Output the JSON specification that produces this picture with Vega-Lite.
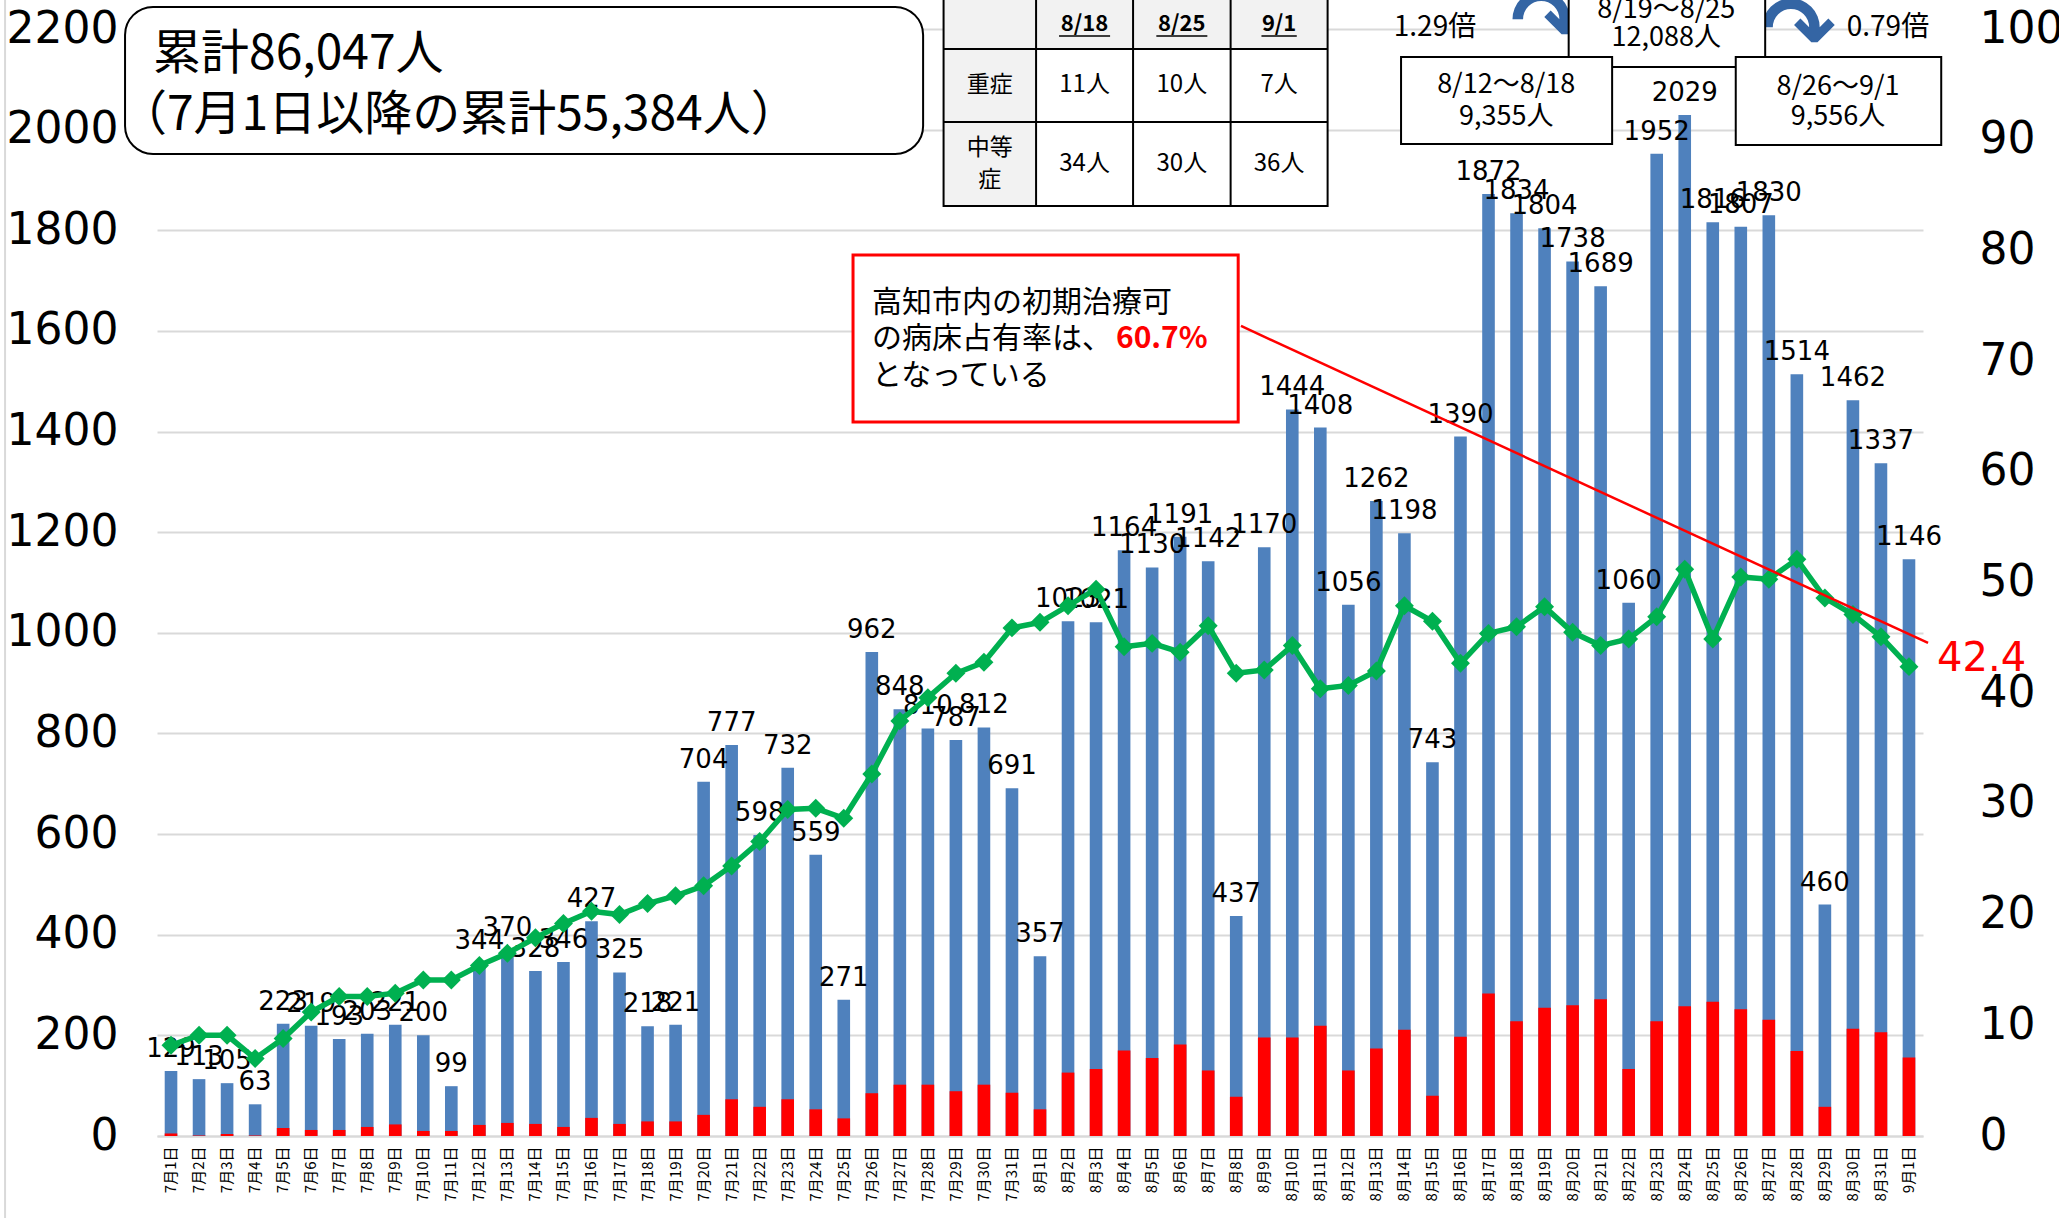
{
"$schema": "https://vega.github.io/schema/vega-lite/v6.json",
"width": 1766, "height": 1107,
"autosize": {"type": "none"},
"padding": {"left": 157, "top": 29, "right": 136, "bottom": 82},
"background": "white",
"config": {"view": {"stroke": null}, "font": "Noto Sans CJK JP"},
"data": {"values": [
{"date":"7月1日","total":129,"red":5,"rate":8.2},
{"date":"7月2日","total":113,"red":1,"rate":9.1},
{"date":"7月3日","total":105,"red":4,"rate":9.1},
{"date":"7月4日","total":63,"red":1,"rate":7.0},
{"date":"7月5日","total":223,"red":16,"rate":8.8},
{"date":"7月6日","total":219,"red":12,"rate":11.2},
{"date":"7月7日","total":193,"red":12,"rate":12.6},
{"date":"7月8日","total":203,"red":18,"rate":12.6},
{"date":"7月9日","total":221,"red":23,"rate":12.9},
{"date":"7月10日","total":200,"red":10,"rate":14.1},
{"date":"7月11日","total":99,"red":10,"rate":14.1},
{"date":"7月12日","total":344,"red":22,"rate":15.4},
{"date":"7月13日","total":370,"red":26,"rate":16.5},
{"date":"7月14日","total":328,"red":24,"rate":17.9},
{"date":"7月15日","total":346,"red":18,"rate":19.2},
{"date":"7月16日","total":427,"red":36,"rate":20.3},
{"date":"7月17日","total":325,"red":24,"rate":20.0},
{"date":"7月18日","total":218,"red":29,"rate":21.0},
{"date":"7月19日","total":221,"red":29,"rate":21.7},
{"date":"7月20日","total":704,"red":42,"rate":22.6},
{"date":"7月21日","total":777,"red":73,"rate":24.4},
{"date":"7月22日","total":598,"red":58,"rate":26.6},
{"date":"7月23日","total":732,"red":73,"rate":29.5},
{"date":"7月24日","total":559,"red":53,"rate":29.6},
{"date":"7月25日","total":271,"red":35,"rate":28.7},
{"date":"7月26日","total":962,"red":85,"rate":32.7},
{"date":"7月27日","total":848,"red":102,"rate":37.5},
{"date":"7月28日","total":810,"red":102,"rate":39.6},
{"date":"7月29日","total":787,"red":89,"rate":41.8},
{"date":"7月30日","total":812,"red":102,"rate":42.8},
{"date":"7月31日","total":691,"red":86,"rate":45.9},
{"date":"8月1日","total":357,"red":53,"rate":46.4},
{"date":"8月2日","total":1023,"red":126,"rate":47.9},
{"date":"8月3日","total":1021,"red":133,"rate":49.4},
{"date":"8月4日","total":1164,"red":170,"rate":44.2},
{"date":"8月5日","total":1130,"red":155,"rate":44.5},
{"date":"8月6日","total":1191,"red":182,"rate":43.7},
{"date":"8月7日","total":1142,"red":130,"rate":46.1},
{"date":"8月8日","total":437,"red":78,"rate":41.8},
{"date":"8月9日","total":1170,"red":196,"rate":42.1},
{"date":"8月10日","total":1444,"red":196,"rate":44.3},
{"date":"8月11日","total":1408,"red":219,"rate":40.4},
{"date":"8月12日","total":1056,"red":130,"rate":40.7},
{"date":"8月13日","total":1262,"red":174,"rate":42.0},
{"date":"8月14日","total":1198,"red":211,"rate":47.9},
{"date":"8月15日","total":743,"red":80,"rate":46.5},
{"date":"8月16日","total":1390,"red":197,"rate":42.7},
{"date":"8月17日","total":1872,"red":283,"rate":45.4},
{"date":"8月18日","total":1834,"red":228,"rate":46.0},
{"date":"8月19日","total":1804,"red":255,"rate":47.8},
{"date":"8月20日","total":1738,"red":260,"rate":45.5},
{"date":"8月21日","total":1689,"red":272,"rate":44.3},
{"date":"8月22日","total":1060,"red":133,"rate":44.9},
{"date":"8月23日","total":1952,"red":228,"rate":46.9},
{"date":"8月24日","total":2029,"red":258,"rate":51.2},
{"date":"8月25日","total":1816,"red":267,"rate":44.9},
{"date":"8月26日","total":1807,"red":252,"rate":50.5},
{"date":"8月27日","total":1830,"red":231,"rate":50.3},
{"date":"8月28日","total":1514,"red":169,"rate":52.1},
{"date":"8月29日","total":460,"red":58,"rate":48.6},
{"date":"8月30日","total":1462,"red":213,"rate":47.1},
{"date":"8月31日","total":1337,"red":206,"rate":45.1},
{"date":"9月1日","total":1146,"red":156,"rate":42.4}
]},
"resolve": {"scale": {"x": "independent", "y": "independent"}, "axis": {"x": "independent", "y": "independent"}},
"layer": [
{"mark": {"type": "bar", "color": "#4F81BD"},
 "encoding": {
  "x": {"field": "date", "type": "nominal", "sort": null, "scale": {"paddingInner": 0.55, "paddingOuter": 0.275},
        "axis": {"orient": "bottom", "title": null, "labelAngle": 270, "labelFont": "Noto Sans CJK JP", "labelFontSize": 15, "labelColor": "#000", "ticks": false, "domain": true, "domainColor": "#D9D9D9", "domainWidth": 2, "labelPadding": 10, "labelOverlap": false}},
  "y": {"field": "total", "type": "quantitative", "scale": {"domain": [0, 2200], "nice": false},
        "axis": {"orient": "left", "title": null, "format": "d", "values": [0,200,400,600,800,1000,1200,1400,1600,1800,2000,2200], "grid": true, "gridColor": "#D9D9D9", "gridWidth": 2, "domain": false, "ticks": false, "labelFont": "DejaVu Sans", "labelFontSize": 44, "labelColor": "#000", "labelPadding": 39, "labelFlush": false, "labelOverlap": false}}
 }},
{"mark": {"type": "bar", "color": "#FF0000"},
 "encoding": {
  "x": {"field": "date", "type": "nominal", "sort": null, "scale": {"paddingInner": 0.55, "paddingOuter": 0.275}, "axis": null},
  "y": {"field": "red", "type": "quantitative", "scale": {"domain": [0, 2200], "nice": false}, "axis": null}
 }},
{"mark": {"type": "text", "font": "DejaVu Sans", "fontSize": 26, "color": "#000", "baseline": "alphabetic", "dy": -14},
 "encoding": {
  "x": {"field": "date", "type": "nominal", "sort": null, "scale": {"paddingInner": 0.55, "paddingOuter": 0.275}, "axis": null},
  "y": {"field": "total", "type": "quantitative", "scale": {"domain": [0, 2200], "nice": false}, "axis": null},
  "text": {"field": "total", "type": "quantitative", "format": "d"}
 }},
{"mark": {"type": "line", "color": "#00B050", "strokeWidth": 5.5, "point": {"shape": "diamond", "size": 360, "filled": true, "color": "#00B050"}},
 "encoding": {
  "x": {"field": "date", "type": "nominal", "sort": null, "scale": {"paddingInner": 0.55, "paddingOuter": 0.275}, "axis": null},
  "y": {"field": "rate", "type": "quantitative", "scale": {"domain": [0, 100], "nice": false},
        "axis": {"orient": "right", "title": null, "values": [0,10,20,30,40,50,60,70,80,90,100], "grid": false, "domain": false, "ticks": false, "labelFont": "DejaVu Sans", "labelFontSize": 44, "labelColor": "#000", "labelPadding": 56, "labelAlign": "left", "labelFlush": false, "labelOverlap": false}}
 }},
{"data": {"values": [{}]},
 "layer": [
  {"mark": {"type": "rule", "color": "#D9D9D9", "strokeWidth": 2},
   "encoding": {"x": {"datum": -5.92, "type": "quantitative", "scale": {"domain": [-0.5, 62.5], "nice": false, "zero": false}, "axis": null},
                "y": {"datum": 2300, "type": "quantitative", "scale": {"domain": [0, 2200], "nice": false, "zero": false}, "axis": null},
                "y2": {"datum": -170}}},
  {"mark": {"type": "rect", "fill": "white", "stroke": "#000", "strokeWidth": 2, "cornerRadius": 28},
   "encoding": {"x": {"datum": -1.64, "type": "quantitative", "scale": {"domain": [-0.5, 62.5], "nice": false, "zero": false}, "axis": null},
                "x2": {"datum": 26.83},
                "y": {"datum": 2243.8, "type": "quantitative", "scale": {"domain": [0, 2200], "nice": false, "zero": false}, "axis": null},
                "y2": {"datum": 1951.6}}},
  {"mark": {"type": "text", "text": "累計86,047人", "font": "Noto Sans CJK JP", "fontSize": 48, "align": "left", "baseline": "middle", "color": "#000"},
   "encoding": {"x": {"datum": -0.64, "type": "quantitative", "scale": {"domain": [-0.5, 62.5], "nice": false, "zero": false}, "axis": null},
                "y": {"datum": 2148, "type": "quantitative", "scale": {"domain": [0, 2200], "nice": false, "zero": false}, "axis": null}}},
  {"mark": {"type": "text", "text": "（7月1日以降の累計55,384人）", "font": "Noto Sans CJK JP", "fontSize": 48, "align": "left", "baseline": "middle", "color": "#000"},
   "encoding": {"x": {"datum": -1.86, "type": "quantitative", "scale": {"domain": [-0.5, 62.5], "nice": false, "zero": false}, "axis": null},
                "y": {"datum": 2027, "type": "quantitative", "scale": {"domain": [0, 2200], "nice": false, "zero": false}, "axis": null}}},

  {"mark": {"type": "rect", "fill": "white"},
   "encoding": {"x": {"datum": 27.56, "type": "quantitative", "scale": {"domain": [-0.5, 62.5], "nice": false, "zero": false}, "axis": null},
                "x2": {"datum": 41.26},
                "y": {"datum": 2290, "type": "quantitative", "scale": {"domain": [0, 2200], "nice": false, "zero": false}, "axis": null},
                "y2": {"datum": 1848.3}}},
  {"mark": {"type": "rect", "fill": "#F2F2F2"},
   "encoding": {"x": {"datum": 27.56, "type": "quantitative", "scale": {"domain": [-0.5, 62.5], "nice": false, "zero": false}, "axis": null},
                "x2": {"datum": 41.26},
                "y": {"datum": 2290, "type": "quantitative", "scale": {"domain": [0, 2200], "nice": false, "zero": false}, "axis": null},
                "y2": {"datum": 2160.3}}},
  {"mark": {"type": "rect", "fill": "#F2F2F2"},
   "encoding": {"x": {"datum": 27.56, "type": "quantitative", "scale": {"domain": [-0.5, 62.5], "nice": false, "zero": false}, "axis": null},
                "x2": {"datum": 30.86},
                "y": {"datum": 2290, "type": "quantitative", "scale": {"domain": [0, 2200], "nice": false, "zero": false}, "axis": null},
                "y2": {"datum": 1848.3}}},
  {"mark": {"type": "rect", "fill": null, "fillOpacity": 0, "stroke": "#000", "strokeWidth": 2},
   "encoding": {"x": {"datum": 27.56, "type": "quantitative", "scale": {"domain": [-0.5, 62.5], "nice": false, "zero": false}, "axis": null},
                "x2": {"datum": 41.26},
                "y": {"datum": 2290, "type": "quantitative", "scale": {"domain": [0, 2200], "nice": false, "zero": false}, "axis": null},
                "y2": {"datum": 1848.3}}},
  {"mark": {"type": "rule", "color": "#000", "strokeWidth": 2},
   "encoding": {"x": {"datum": 30.86, "type": "quantitative", "scale": {"domain": [-0.5, 62.5], "nice": false, "zero": false}, "axis": null},
                "y": {"datum": 2290, "type": "quantitative", "scale": {"domain": [0, 2200], "nice": false, "zero": false}, "axis": null},
                "y2": {"datum": 1848.3}}},
  {"mark": {"type": "rule", "color": "#000", "strokeWidth": 2},
   "encoding": {"x": {"datum": 34.32, "type": "quantitative", "scale": {"domain": [-0.5, 62.5], "nice": false, "zero": false}, "axis": null},
                "y": {"datum": 2290, "type": "quantitative", "scale": {"domain": [0, 2200], "nice": false, "zero": false}, "axis": null},
                "y2": {"datum": 1848.3}}},
  {"mark": {"type": "rule", "color": "#000", "strokeWidth": 2},
   "encoding": {"x": {"datum": 37.80, "type": "quantitative", "scale": {"domain": [-0.5, 62.5], "nice": false, "zero": false}, "axis": null},
                "y": {"datum": 2290, "type": "quantitative", "scale": {"domain": [0, 2200], "nice": false, "zero": false}, "axis": null},
                "y2": {"datum": 1848.3}}},
  {"mark": {"type": "rule", "color": "#000", "strokeWidth": 2},
   "encoding": {"x": {"datum": 27.56, "type": "quantitative", "scale": {"domain": [-0.5, 62.5], "nice": false, "zero": false}, "axis": null},
                "x2": {"datum": 41.26},
                "y": {"datum": 2160.3, "type": "quantitative", "scale": {"domain": [0, 2200], "nice": false, "zero": false}, "axis": null}}},
  {"mark": {"type": "rule", "color": "#000", "strokeWidth": 2},
   "encoding": {"x": {"datum": 27.56, "type": "quantitative", "scale": {"domain": [-0.5, 62.5], "nice": false, "zero": false}, "axis": null},
                "x2": {"datum": 41.26},
                "y": {"datum": 2015.2, "type": "quantitative", "scale": {"domain": [0, 2200], "nice": false, "zero": false}, "axis": null}}},
  {"mark": {"type": "text", "text": "8/18", "font": "Noto Sans CJK JP", "fontSize": 22, "fontWeight": "bold", "align": "center", "baseline": "middle", "color": "#000"},
   "encoding": {"x": {"datum": 32.59, "type": "quantitative", "scale": {"domain": [-0.5, 62.5], "nice": false, "zero": false}, "axis": null},
                "y": {"datum": 2210, "type": "quantitative", "scale": {"domain": [0, 2200], "nice": false, "zero": false}, "axis": null}}},
  {"mark": {"type": "text", "text": "8/25", "font": "Noto Sans CJK JP", "fontSize": 22, "fontWeight": "bold", "align": "center", "baseline": "middle", "color": "#000"},
   "encoding": {"x": {"datum": 36.06, "type": "quantitative", "scale": {"domain": [-0.5, 62.5], "nice": false, "zero": false}, "axis": null},
                "y": {"datum": 2210, "type": "quantitative", "scale": {"domain": [0, 2200], "nice": false, "zero": false}, "axis": null}}},
  {"mark": {"type": "text", "text": "9/1", "font": "Noto Sans CJK JP", "fontSize": 22, "fontWeight": "bold", "align": "center", "baseline": "middle", "color": "#000"},
   "encoding": {"x": {"datum": 39.53, "type": "quantitative", "scale": {"domain": [-0.5, 62.5], "nice": false, "zero": false}, "axis": null},
                "y": {"datum": 2210, "type": "quantitative", "scale": {"domain": [0, 2200], "nice": false, "zero": false}, "axis": null}}},
  {"mark": {"type": "rule", "color": "#000", "strokeWidth": 1.5},
   "encoding": {"x": {"datum": 31.68, "type": "quantitative", "scale": {"domain": [-0.5, 62.5], "nice": false, "zero": false}, "axis": null},
                "x2": {"datum": 33.5},
                "y": {"datum": 2186, "type": "quantitative", "scale": {"domain": [0, 2200], "nice": false, "zero": false}, "axis": null}}},
  {"mark": {"type": "rule", "color": "#000", "strokeWidth": 1.5},
   "encoding": {"x": {"datum": 35.15, "type": "quantitative", "scale": {"domain": [-0.5, 62.5], "nice": false, "zero": false}, "axis": null},
                "x2": {"datum": 36.97},
                "y": {"datum": 2186, "type": "quantitative", "scale": {"domain": [0, 2200], "nice": false, "zero": false}, "axis": null}}},
  {"mark": {"type": "rule", "color": "#000", "strokeWidth": 1.5},
   "encoding": {"x": {"datum": 38.9, "type": "quantitative", "scale": {"domain": [-0.5, 62.5], "nice": false, "zero": false}, "axis": null},
                "x2": {"datum": 40.16},
                "y": {"datum": 2186, "type": "quantitative", "scale": {"domain": [0, 2200], "nice": false, "zero": false}, "axis": null}}},
  {"mark": {"type": "text", "text": "重症", "font": "Noto Sans CJK JP", "fontSize": 23, "align": "center", "baseline": "middle", "color": "#000"},
   "encoding": {"x": {"datum": 29.21, "type": "quantitative", "scale": {"domain": [-0.5, 62.5], "nice": false, "zero": false}, "axis": null},
                "y": {"datum": 2087.8, "type": "quantitative", "scale": {"domain": [0, 2200], "nice": false, "zero": false}, "axis": null}}},
  {"mark": {"type": "text", "text": "中等", "font": "Noto Sans CJK JP", "fontSize": 23, "align": "center", "baseline": "middle", "color": "#000"},
   "encoding": {"x": {"datum": 29.21, "type": "quantitative", "scale": {"domain": [-0.5, 62.5], "nice": false, "zero": false}, "axis": null},
                "y": {"datum": 1963.5, "type": "quantitative", "scale": {"domain": [0, 2200], "nice": false, "zero": false}, "axis": null}}},
  {"mark": {"type": "text", "text": "症", "font": "Noto Sans CJK JP", "fontSize": 23, "align": "center", "baseline": "middle", "color": "#000"},
   "encoding": {"x": {"datum": 29.21, "type": "quantitative", "scale": {"domain": [-0.5, 62.5], "nice": false, "zero": false}, "axis": null},
                "y": {"datum": 1900, "type": "quantitative", "scale": {"domain": [0, 2200], "nice": false, "zero": false}, "axis": null}}},
  {"mark": {"type": "text", "text": "11人", "font": "Noto Sans CJK JP", "fontSize": 24, "align": "center", "baseline": "middle", "color": "#000"},
   "encoding": {"x": {"datum": 32.59, "type": "quantitative", "scale": {"domain": [-0.5, 62.5], "nice": false, "zero": false}, "axis": null},
                "y": {"datum": 2087.8, "type": "quantitative", "scale": {"domain": [0, 2200], "nice": false, "zero": false}, "axis": null}}},
  {"mark": {"type": "text", "text": "10人", "font": "Noto Sans CJK JP", "fontSize": 24, "align": "center", "baseline": "middle", "color": "#000"},
   "encoding": {"x": {"datum": 36.06, "type": "quantitative", "scale": {"domain": [-0.5, 62.5], "nice": false, "zero": false}, "axis": null},
                "y": {"datum": 2087.8, "type": "quantitative", "scale": {"domain": [0, 2200], "nice": false, "zero": false}, "axis": null}}},
  {"mark": {"type": "text", "text": "7人", "font": "Noto Sans CJK JP", "fontSize": 24, "align": "center", "baseline": "middle", "color": "#000"},
   "encoding": {"x": {"datum": 39.53, "type": "quantitative", "scale": {"domain": [-0.5, 62.5], "nice": false, "zero": false}, "axis": null},
                "y": {"datum": 2087.8, "type": "quantitative", "scale": {"domain": [0, 2200], "nice": false, "zero": false}, "axis": null}}},
  {"mark": {"type": "text", "text": "34人", "font": "Noto Sans CJK JP", "fontSize": 24, "align": "center", "baseline": "middle", "color": "#000"},
   "encoding": {"x": {"datum": 32.59, "type": "quantitative", "scale": {"domain": [-0.5, 62.5], "nice": false, "zero": false}, "axis": null},
                "y": {"datum": 1931.8, "type": "quantitative", "scale": {"domain": [0, 2200], "nice": false, "zero": false}, "axis": null}}},
  {"mark": {"type": "text", "text": "30人", "font": "Noto Sans CJK JP", "fontSize": 24, "align": "center", "baseline": "middle", "color": "#000"},
   "encoding": {"x": {"datum": 36.06, "type": "quantitative", "scale": {"domain": [-0.5, 62.5], "nice": false, "zero": false}, "axis": null},
                "y": {"datum": 1931.8, "type": "quantitative", "scale": {"domain": [0, 2200], "nice": false, "zero": false}, "axis": null}}},
  {"mark": {"type": "text", "text": "36人", "font": "Noto Sans CJK JP", "fontSize": 24, "align": "center", "baseline": "middle", "color": "#000"},
   "encoding": {"x": {"datum": 39.53, "type": "quantitative", "scale": {"domain": [-0.5, 62.5], "nice": false, "zero": false}, "axis": null},
                "y": {"datum": 1931.8, "type": "quantitative", "scale": {"domain": [0, 2200], "nice": false, "zero": false}, "axis": null}}},

  {"mark": {"type": "text", "text": "↷", "font": "DejaVu Sans", "fontSize": 90, "fontWeight": "bold", "align": "center", "baseline": "middle", "color": "#3465A4"},
   "encoding": {"x": {"datum": 49.13, "type": "quantitative", "scale": {"domain": [-0.5, 62.5], "nice": false, "zero": false}, "axis": null},
                "y": {"datum": 2208, "type": "quantitative", "scale": {"domain": [0, 2200], "nice": false, "zero": false}, "axis": null}}},
  {"mark": {"type": "text", "text": "↷", "font": "DejaVu Sans", "fontSize": 90, "fontWeight": "bold", "align": "center", "baseline": "middle", "color": "#3465A4"},
   "encoding": {"x": {"datum": 58.04, "type": "quantitative", "scale": {"domain": [-0.5, 62.5], "nice": false, "zero": false}, "axis": null},
                "y": {"datum": 2192, "type": "quantitative", "scale": {"domain": [0, 2200], "nice": false, "zero": false}, "axis": null}}},
  {"mark": {"type": "rect", "fill": "white", "stroke": "#000", "strokeWidth": 2},
   "encoding": {"x": {"datum": 49.86, "type": "quantitative", "scale": {"domain": [-0.5, 62.5], "nice": false, "zero": false}, "axis": null},
                "x2": {"datum": 56.87},
                "y": {"datum": 2290, "type": "quantitative", "scale": {"domain": [0, 2200], "nice": false, "zero": false}, "axis": null},
                "y2": {"datum": 2124.5}}},
  {"mark": {"type": "text", "text": "8/19～8/25", "font": "Noto Sans CJK JP", "fontSize": 27, "align": "center", "baseline": "middle", "color": "#000"},
   "encoding": {"x": {"datum": 53.34, "type": "quantitative", "scale": {"domain": [-0.5, 62.5], "nice": false, "zero": false}, "axis": null},
                "y": {"datum": 2237.8, "type": "quantitative", "scale": {"domain": [0, 2200], "nice": false, "zero": false}, "axis": null}}},
  {"mark": {"type": "text", "text": "12,088人", "font": "Noto Sans CJK JP", "fontSize": 27, "align": "center", "baseline": "middle", "color": "#000"},
   "encoding": {"x": {"datum": 53.34, "type": "quantitative", "scale": {"domain": [-0.5, 62.5], "nice": false, "zero": false}, "axis": null},
                "y": {"datum": 2182.1, "type": "quantitative", "scale": {"domain": [0, 2200], "nice": false, "zero": false}, "axis": null}}},
  {"mark": {"type": "rect", "fill": "white", "stroke": "#000", "strokeWidth": 2},
   "encoding": {"x": {"datum": 43.88, "type": "quantitative", "scale": {"domain": [-0.5, 62.5], "nice": false, "zero": false}, "axis": null},
                "x2": {"datum": 51.41},
                "y": {"datum": 2144.4, "type": "quantitative", "scale": {"domain": [0, 2200], "nice": false, "zero": false}, "axis": null},
                "y2": {"datum": 1971.5}}},
  {"mark": {"type": "text", "text": "8/12～8/18", "font": "Noto Sans CJK JP", "fontSize": 27, "align": "center", "baseline": "middle", "color": "#000"},
   "encoding": {"x": {"datum": 47.63, "type": "quantitative", "scale": {"domain": [-0.5, 62.5], "nice": false, "zero": false}, "axis": null},
                "y": {"datum": 2088.8, "type": "quantitative", "scale": {"domain": [0, 2200], "nice": false, "zero": false}, "axis": null}}},
  {"mark": {"type": "text", "text": "9,355人", "font": "Noto Sans CJK JP", "fontSize": 27, "align": "center", "baseline": "middle", "color": "#000"},
   "encoding": {"x": {"datum": 47.63, "type": "quantitative", "scale": {"domain": [-0.5, 62.5], "nice": false, "zero": false}, "axis": null},
                "y": {"datum": 2025.2, "type": "quantitative", "scale": {"domain": [0, 2200], "nice": false, "zero": false}, "axis": null}}},
  {"mark": {"type": "rect", "fill": "white", "stroke": "#000", "strokeWidth": 2},
   "encoding": {"x": {"datum": 55.82, "type": "quantitative", "scale": {"domain": [-0.5, 62.5], "nice": false, "zero": false}, "axis": null},
                "x2": {"datum": 63.15},
                "y": {"datum": 2144.4, "type": "quantitative", "scale": {"domain": [0, 2200], "nice": false, "zero": false}, "axis": null},
                "y2": {"datum": 1969.5}}},
  {"mark": {"type": "text", "text": "8/26～9/1", "font": "Noto Sans CJK JP", "fontSize": 27, "align": "center", "baseline": "middle", "color": "#000"},
   "encoding": {"x": {"datum": 59.47, "type": "quantitative", "scale": {"domain": [-0.5, 62.5], "nice": false, "zero": false}, "axis": null},
                "y": {"datum": 2084.8, "type": "quantitative", "scale": {"domain": [0, 2200], "nice": false, "zero": false}, "axis": null}}},
  {"mark": {"type": "text", "text": "9,556人", "font": "Noto Sans CJK JP", "fontSize": 27, "align": "center", "baseline": "middle", "color": "#000"},
   "encoding": {"x": {"datum": 59.47, "type": "quantitative", "scale": {"domain": [-0.5, 62.5], "nice": false, "zero": false}, "axis": null},
                "y": {"datum": 2025.2, "type": "quantitative", "scale": {"domain": [0, 2200], "nice": false, "zero": false}, "axis": null}}},
  {"mark": {"type": "text", "text": "1.29倍", "font": "Noto Sans CJK JP", "fontSize": 28, "align": "center", "baseline": "middle", "color": "#000"},
   "encoding": {"x": {"datum": 45.09, "type": "quantitative", "scale": {"domain": [-0.5, 62.5], "nice": false, "zero": false}, "axis": null},
                "y": {"datum": 2202, "type": "quantitative", "scale": {"domain": [0, 2200], "nice": false, "zero": false}, "axis": null}}},
  {"mark": {"type": "text", "text": "0.79倍", "font": "Noto Sans CJK JP", "fontSize": 28, "align": "center", "baseline": "middle", "color": "#000"},
   "encoding": {"x": {"datum": 61.25, "type": "quantitative", "scale": {"domain": [-0.5, 62.5], "nice": false, "zero": false}, "axis": null},
                "y": {"datum": 2202, "type": "quantitative", "scale": {"domain": [0, 2200], "nice": false, "zero": false}, "axis": null}}},

  {"mark": {"type": "rect", "fill": "white", "stroke": "#FF0000", "strokeWidth": 3},
   "encoding": {"x": {"datum": 24.33, "type": "quantitative", "scale": {"domain": [-0.5, 62.5], "nice": false, "zero": false}, "axis": null},
                "x2": {"datum": 38.07},
                "y": {"datum": 1750.9, "type": "quantitative", "scale": {"domain": [0, 2200], "nice": false, "zero": false}, "axis": null},
                "y2": {"datum": 1419.0}}},
  {"mark": {"type": "text", "text": "高知市内の初期治療可", "font": "Noto Sans CJK JP", "fontSize": 30, "align": "left", "baseline": "middle", "color": "#000"},
   "encoding": {"x": {"datum": 25.01, "type": "quantitative", "scale": {"domain": [-0.5, 62.5], "nice": false, "zero": false}, "axis": null},
                "y": {"datum": 1655.5, "type": "quantitative", "scale": {"domain": [0, 2200], "nice": false, "zero": false}, "axis": null}}},
  {"mark": {"type": "text", "text": "の病床占有率は、", "font": "Noto Sans CJK JP", "fontSize": 30, "align": "left", "baseline": "middle", "color": "#000"},
   "encoding": {"x": {"datum": 25.01, "type": "quantitative", "scale": {"domain": [-0.5, 62.5], "nice": false, "zero": false}, "axis": null},
                "y": {"datum": 1584, "type": "quantitative", "scale": {"domain": [0, 2200], "nice": false, "zero": false}, "axis": null}}},
  {"mark": {"type": "text", "text": "60.7%", "font": "Noto Sans CJK JP", "fontSize": 30, "fontWeight": "bold", "align": "left", "baseline": "middle", "color": "#FF0000"},
   "encoding": {"x": {"datum": 33.71, "type": "quantitative", "scale": {"domain": [-0.5, 62.5], "nice": false, "zero": false}, "axis": null},
                "y": {"datum": 1584, "type": "quantitative", "scale": {"domain": [0, 2200], "nice": false, "zero": false}, "axis": null}}},
  {"mark": {"type": "text", "text": "となっている", "font": "Noto Sans CJK JP", "fontSize": 30, "align": "left", "baseline": "middle", "color": "#000"},
   "encoding": {"x": {"datum": 25.01, "type": "quantitative", "scale": {"domain": [-0.5, 62.5], "nice": false, "zero": false}, "axis": null},
                "y": {"datum": 1510.4, "type": "quantitative", "scale": {"domain": [0, 2200], "nice": false, "zero": false}, "axis": null}}},
  {"mark": {"type": "rule", "color": "#FF0000", "strokeWidth": 2.5},
   "encoding": {"x": {"datum": 38.17, "type": "quantitative", "scale": {"domain": [-0.5, 62.5], "nice": false, "zero": false}, "axis": null},
                "x2": {"datum": 62.68},
                "y": {"datum": 1609.8, "type": "quantitative", "scale": {"domain": [0, 2200], "nice": false, "zero": false}, "axis": null},
                "y2": {"datum": 979.8}}},
  {"mark": {"type": "text", "text": "42.4", "font": "DejaVu Sans", "fontSize": 40, "align": "left", "baseline": "middle", "color": "#FF0000"},
   "encoding": {"x": {"datum": 63.0, "type": "quantitative", "scale": {"domain": [-0.5, 62.5], "nice": false, "zero": false}, "axis": null},
                "y": {"datum": 948, "type": "quantitative", "scale": {"domain": [0, 2200], "nice": false, "zero": false}, "axis": null}}}
 ]}
]
}
